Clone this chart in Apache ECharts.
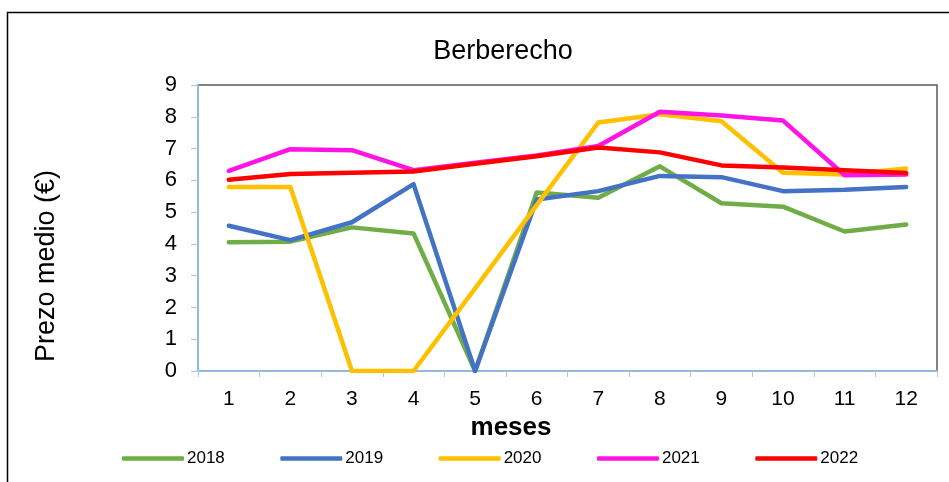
<!DOCTYPE html>
<html>
<head>
<meta charset="utf-8">
<script src="https://cdn.jsdelivr.net/npm/echarts@6/dist/echarts.min.js"></script>
<style>
  html, body { margin: 0; padding: 0; background: #fff; }
  #chart { width: 949px; height: 482px; }
</style>
</head>
<body>
<div id="chart"></div>
<script>
// meses
var months = ['1', '2', '3', '4', '5', '6', '7', '8', '9', '10', '11', '12'];

// prezo medio por ano
var v2018 = [4.05, 4.07, 4.52, 4.33, 0, 5.62, 5.45, 6.44, 5.28, 5.17, 4.39, 4.61];
var v2019 = [4.57, 4.12, 4.68, 5.88, 0, 5.40, 5.66, 6.14, 6.10, 5.66, 5.70, 5.79];
var v2020 = [5.79, 5.79, 0, 0, 2.60, 5.22, 7.82, 8.08, 7.86, 6.24, 6.18, 6.37];
var v2021 = [6.30, 6.98, 6.95, 6.32, 6.55, 6.78, 7.08, 8.16, 8.04, 7.88, 6.16, 6.18];
var v2022 = [6.02, 6.20, 6.24, 6.28, 6.52, 6.76, 7.03, 6.88, 6.47, 6.40, 6.32, 6.23];

var years = ['2018', '2019', '2020', '2021', '2022'];
var colors = ['#70AD47', '#4472C4', '#FFC000', '#FF14E6', '#FF0000'];
var values = [v2018, v2019, v2020, v2021, v2022];

var axisBlue = '#99CCFF';
var font = 'Liberation Sans';

var series = years.map(function (y, i) {
  return {
    name: y,
    type: 'line',
    data: values[i],
    symbol: 'none',
    lineStyle: { width: 4.5, color: colors[i], cap: 'round', join: 'round' },
    itemStyle: { color: colors[i] },
    z: 2 + i
  };
});

var chart = echarts.init(document.getElementById('chart'));
var option = {
  animation: false,
  backgroundColor: '#fff',
  title: {
    text: 'Berberecho',
    left: 498,
    textAlign: 'center',
    top: 33,
    textStyle: { fontFamily: font, fontSize: 27, fontWeight: 'normal', color: '#000' }
  },
  graphic: [
    {
      type: 'rect',
      shape: { x: 7.5, y: 12.5, width: 960, height: 500 },
      style: { fill: 'none', stroke: '#000', lineWidth: 1.5 },
      silent: true
    },
    {
      // eixo y: nome
      type: 'text',
      x: 47,
      y: 266,
      rotation: Math.PI / 2,
      style: { text: 'Prezo medio (€)', fontFamily: font, fontSize: 27, fill: '#000', align: 'center', verticalAlign: 'middle' },
      silent: true
    },
    {
      // eixo x: nome
      type: 'text',
      x: 511,
      y: 428,
      style: { text: 'meses', fontFamily: font, fontSize: 26, fontWeight: 'bold', fill: '#000', align: 'center', verticalAlign: 'middle' },
      silent: true
    }
  ],
  legend: {
    top: 445,
    left: 117,
    itemGap: 55.5,
    itemWidth: 62,
    itemHeight: 4.5,
    icon: 'roundRect',
    textStyle: { fontFamily: font, fontSize: 17, color: '#000', padding: [0, 0, 0, -2] },
    data: years
  },
  grid: {
    left: 198,
    right: 12,
    top: 85,
    bottom: 111,
    show: true,
    borderColor: '#595959',
    borderWidth: 1.5
  },
  xAxis: {
    type: 'category',
    data: months,
    boundaryGap: true,
    axisLine: { lineStyle: { color: axisBlue, width: 1.5 } },
    axisTick: { show: true, length: 6, lineStyle: { color: axisBlue } },
    axisLabel: { fontFamily: font, fontSize: 21, color: '#000', margin: 18 },
    splitLine: { show: false }
  },
  yAxis: {
    type: 'value',
    min: 0,
    max: 9,
    interval: 1,
    axisLine: { show: true, lineStyle: { color: axisBlue, width: 1.5 } },
    axisTick: { show: true, length: 7, lineStyle: { color: axisBlue } },
    axisLabel: { fontFamily: font, fontSize: 22, color: '#000', margin: 21 },
    splitLine: { show: false }
  },
  series: series
};
chart.setOption(option);
</script>
</body>
</html>
